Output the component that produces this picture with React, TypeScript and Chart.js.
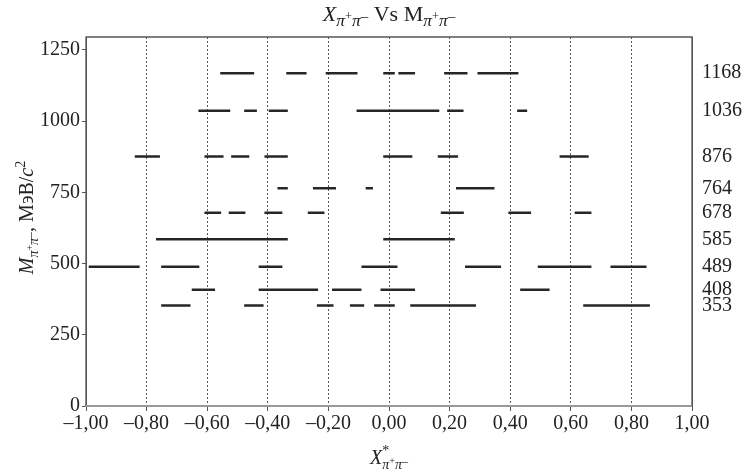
import React, { useEffect, useRef } from "react";
import { Chart, registerables } from "chart.js";

Chart.register(...registerables);

const LEVELS = [353, 408, 489, 585, 678, 764, 876, 1036, 1168];
const Y_TICKS = [0, 250, 500, 750, 1000, 1250];

const seg1168 = [[-0.557, -0.445], [-0.339, -0.272], [-0.209, -0.104], [-0.019, 0.019], [0.031, 0.086], [0.182, 0.259], [0.292, 0.427]];
const seg1036 = [[-0.629, -0.524], [-0.478, -0.436], [-0.397, -0.334], [-0.107, 0.166], [0.192, 0.246], [0.423, 0.456]];
const seg876 = [[-0.839, -0.756], [-0.609, -0.546], [-0.521, -0.461], [-0.411, -0.334], [-0.019, 0.077], [0.161, 0.228], [0.563, 0.659]];
const seg764 = [[-0.368, -0.334], [-0.251, -0.175], [-0.077, -0.053], [0.221, 0.348]];
const seg678 = [[-0.609, -0.554], [-0.529, -0.474], [-0.411, -0.352], [-0.268, -0.213], [0.171, 0.247], [0.394, 0.469], [0.613, 0.668]];
const seg585 = [[-0.769, -0.334], [-0.019, 0.217]];
const seg489 = [[-0.991, -0.823], [-0.752, -0.626], [-0.43, -0.352], [-0.091, 0.028], [0.251, 0.37], [0.491, 0.668], [0.731, 0.85]];
const seg408 = [[-0.651, -0.574], [-0.43, -0.234], [-0.188, -0.091], [-0.028, 0.086], [0.433, 0.53]];
const seg353 = [[-0.752, -0.655], [-0.478, -0.414], [-0.238, -0.183], [-0.129, -0.082], [-0.049, 0.019], [0.07, 0.287], [0.641, 0.861]];

const ROWS: [number, number[][]][] = [
  [353, seg353],
  [408, seg408],
  [489, seg489],
  [585, seg585],
  [678, seg678],
  [764, seg764],
  [876, seg876],
  [1036, seg1036],
  [1168, seg1168],
];

const FONT = "'Liberation Serif', 'Times New Roman', serif";

type Run = { t: string; it?: boolean; size?: number; dy?: number; noAdv?: boolean };

function runsWidth(ctx: CanvasRenderingContext2D, runs: Run[], base: number) {
  let w = 0;
  for (const r of runs) {
    ctx.font = `${r.it ? "italic " : ""}${r.size || base}px ${FONT}`;
    if (!r.noAdv) w += ctx.measureText(r.t).width;
  }
  return w;
}

function drawRuns(ctx: CanvasRenderingContext2D, runs: Run[], cx: number, baseY: number, base = 20) {
  const w = runsWidth(ctx, runs, base);
  let x = cx - w / 2;
  ctx.textBaseline = "alphabetic";
  ctx.textAlign = "left";
  for (const r of runs) {
    ctx.font = `${r.it ? "italic " : ""}${r.size || base}px ${FONT}`;
    ctx.fillText(r.t, x, baseY + (r.dy || 0));
    if (!r.noAdv) x += ctx.measureText(r.t).width;
  }
}

const pipi = (dy: number, k = 1): Run[] => [
  { t: "π", it: true, size: 14 * k, dy },
  { t: "+", size: 10 * k, dy: dy - 5 * k },
  { t: "π", it: true, size: 14 * k, dy },
  { t: "–", size: 12 * k, dy: dy - 4 * k },
];

const textPlugin = {
  id: "richText",
  afterDraw(chart: any) {
    const ctx: CanvasRenderingContext2D = chart.ctx;
    const a = chart.chartArea;
    ctx.save();
    ctx.strokeStyle = "#555";
    ctx.lineWidth = 1.3;
    ctx.beginPath();
    ctx.moveTo(a.left, a.bottom);
    ctx.lineTo(a.left, a.top);
    ctx.lineTo(a.right, a.top);
    ctx.lineTo(a.right, a.bottom);
    ctx.stroke();
    ctx.strokeStyle = "#999";
    ctx.lineWidth = 2;
    ctx.beginPath();
    ctx.moveTo(a.left, a.bottom);
    ctx.lineTo(a.right, a.bottom);
    ctx.stroke();

    ctx.fillStyle = "#222";
    const cx = (a.left + a.right) / 2;
    drawRuns(ctx, [{ t: "X", it: true }, ...pipi(5, 1.25), { t: " Vs M" }, ...pipi(5, 1.25)], cx, 21, 22);
    const xr: Run[] = [
      { t: "X", it: true },
      { t: "*", size: 14, dy: -9, noAdv: true },
      ...pipi(5),
    ];
    drawRuns(ctx, xr, cx, 464);
    ctx.save();
    ctx.translate(33, (a.top + a.bottom) / 2 - 4);
    ctx.rotate(-Math.PI / 2);
    drawRuns(ctx, [{ t: "M", it: true }, ...pipi(5), { t: ", МэВ/" }, { t: "c", it: true }, { t: "2", size: 14, dy: -8 }], 0, 0);
    ctx.restore();
    ctx.restore();
  },
};

export default function App() {
  const ref = useRef<HTMLCanvasElement>(null);
  useEffect(() => {
    if (!ref.current) return;
    const datasets = ROWS.map(([lvl, segs]) => {
      const data: any[] = [];
      segs.forEach(([a, b]) => {
        data.push({ x: a, y: lvl }, { x: b, y: lvl }, { x: b, y: null });
      });
      return {
        label: String(lvl),
        data,
        borderColor: "#262626",
        borderWidth: 2.5,
        borderCapStyle: "butt" as const,
        pointRadius: 0,
        spanGaps: false,
        fill: false,
      };
    });
    const chart = new Chart(ref.current, {
      type: "line",
      data: { datasets },
      options: {
        animation: false,
        responsive: false,
        layout: { padding: { top: 37, left: 0, right: 0, bottom: 0 } },
        plugins: { legend: { display: false }, tooltip: { enabled: false }, title: { display: false } },
        scales: {
          x: {
            type: "linear",
            min: -1,
            max: 1,
            ticks: {
              stepSize: 0.2,
              color: "#222",
              font: { family: FONT, size: 20 },
              padding: 1,
              maxRotation: 0,
              autoSkip: false,
              callback: (v: any) => {
                const n = Number(v);
                const s = Math.abs(n).toFixed(2).replace(".", ",");
                return (n < -1e-9 ? "–" : "") + s;
              },
            },
            grid: {
              color: (c: any) => (Math.abs(Math.abs(c.tick.value) - 1) < 1e-6 ? "rgba(0,0,0,0)" : "#555"),
              lineWidth: 1,
              tickLength: 5,
              tickColor: "#555",
            },
            border: { display: true, color: "#999", width: 2, dash: [2, 2] },
            afterFit: (s: any) => {
              s.height = 475 - 406;
            },
          },
          y: {
            type: "linear",
            position: "left",
            min: 0,
            max: 1295,
            afterBuildTicks: (s: any) => {
              s.ticks = Y_TICKS.map((v) => ({ value: v }));
            },
            ticks: { color: "#222", font: { family: FONT, size: 20 }, padding: 2, callback: (v: any) => String(v) },
            grid: { drawOnChartArea: false, tickLength: 4, color: "#555" },
            border: { display: true, color: "#555" },
            afterFit: (s: any) => {
              s.width = 86;
            },
          },
          y2: {
            type: "linear",
            position: "right",
            min: 0,
            max: 1295,
            afterBuildTicks: (s: any) => {
              s.ticks = LEVELS.map((v) => ({ value: v }));
            },
            ticks: { color: "#222", font: { family: FONT, size: 20 }, padding: 10, callback: (v: any) => String(v) },
            grid: { drawOnChartArea: false, drawTicks: false },
            border: { display: true, color: "#555" },
            afterFit: (s: any) => {
              s.width = 745 - 692;
            },
          },
        },
      },
      plugins: [textPlugin],
    });
    return () => chart.destroy();
  }, []);
  return (
    <div style={{ position: "fixed", left: 0, top: 0, width: 745, height: 475, background: "#fff" }}>
      <canvas ref={ref} width={745} height={475} style={{ display: "block" }} />
    </div>
  );
}
